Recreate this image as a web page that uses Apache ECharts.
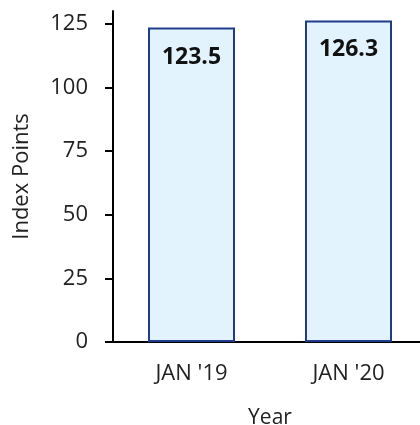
<!DOCTYPE html>
<html>
<head>
<meta charset="utf-8">
<script src="https://cdn.jsdelivr.net/npm/echarts@6/dist/echarts.min.js"></script>
<style>html,body{margin:0;padding:0;background:#fff}#c{width:420px;height:425px}</style>
</head>
<body>
<div id="c"></div>
<script>
const categories = ["JAN '19", "JAN '20"];
const values = [123.5, 126.3];
const yTicks = [0, 25, 50, 75, 100, 125];
const xName = 'Year';
const yName = 'Index Points';

const chart = echarts.init(document.getElementById('c'), null, {renderer: 'canvas'});
const font = '"Open Sans", "Noto Sans", sans-serif';
chart.setOption({
  animation: false,
  backgroundColor: '#fff',
  grid: {left: 113, right: -7, top: 11, bottom: 83, containLabel: false, outerBoundsMode: 'none'},
  xAxis: {
    type: 'category',
    data: categories,
    name: xName,
    nameLocation: 'middle',
    nameGap: 66,
    nameTextStyle: {fontSize: 21, color: '#222', fontFamily: font},
    axisLine: {lineStyle: {color: '#000', width: 2}},
    axisTick: {show: false},
    axisLabel: {fontSize: 22, color: '#222', margin: 21, fontFamily: font}
  },
  yAxis: {
    type: 'value',
    min: 0,
    max: 130,
    interval: 25,
    name: yName,
    nameLocation: 'middle',
    nameGap: 80,
    nameTextStyle: {fontSize: 22, color: '#222', fontFamily: font},
    axisLine: {show: true, lineStyle: {color: '#000', width: 2}},
    axisTick: {show: true, length: 8, lineStyle: {color: '#000', width: 2}, customValues: yTicks},
    axisLabel: {fontSize: 22, color: '#222', margin: 25, fontFamily: font, customValues: yTicks},
    splitLine: {show: false}
  },
  series: [{
    type: 'bar',
    data: values,
    barWidth: 87,
    itemStyle: {color: '#e3f3fd', borderColor: '#1f3c8c', borderWidth: 2},
    label: {
      show: true,
      position: 'insideTop',
      distance: 18,
      fontSize: 23,
      fontWeight: 'bold',
      color: '#111',
      fontFamily: font
    }
  }]
});
</script>
</body>
</html>
